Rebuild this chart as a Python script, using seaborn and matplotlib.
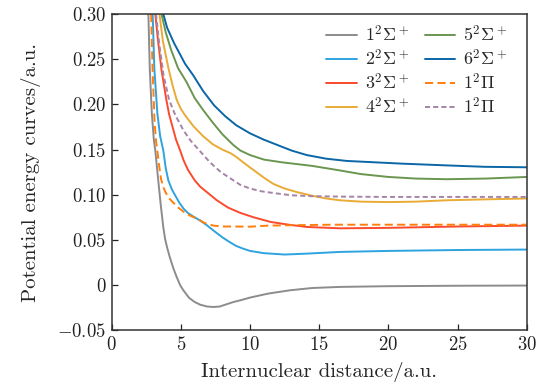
import matplotlib
matplotlib.use("Agg")
import matplotlib.pyplot as plt
from matplotlib.ticker import FuncFormatter, MultipleLocator
import seaborn as sns

sns.set_style("white")
plt.rcParams["font.family"] = ["cmr10", "DejaVu Serif"]
plt.rcParams["mathtext.fontset"] = "cm"
plt.rcParams["axes.formatter.use_mathtext"] = True
plt.rcParams["axes.unicode_minus"] = True

# curve data (distance in a.u., energy in a.u.)
x_s1 = [2.65, 2.75, 2.9, 3.05, 3.15, 3.37, 3.55, 3.73, 3.85, 4.0, 4.2, 4.45, 4.7, 4.95, 5.2,
        5.6, 6.0, 6.4, 6.9, 7.35, 7.8, 8.3, 8.8, 9.3, 10.0, 11.3, 12.9, 14.5, 16.5, 20, 25, 30]
y_s1 = [0.30, 0.24, 0.19, 0.16, 0.149, 0.115, 0.088, 0.064, 0.052, 0.042, 0.031, 0.019, 0.009,
        0.0, -0.006, -0.014, -0.0185, -0.0215, -0.0235, -0.024, -0.0235, -0.021, -0.0185,
        -0.0166, -0.0136, -0.0092, -0.0055, -0.003, -0.0018, -0.001, -0.0005, -0.0003]

x_s2 = [2.96, 3.08, 3.3, 3.5, 3.73, 3.9, 4.09, 4.35, 4.6, 4.9, 5.18, 5.5, 5.9, 6.4, 6.87, 7.4,
        8.0, 8.5, 9.0, 9.5, 10.0, 11.0, 12.5, 14.1, 16.5, 20, 25, 30]
y_s2 = [0.30, 0.24, 0.19, 0.165, 0.149, 0.13, 0.116, 0.106, 0.099, 0.091, 0.085, 0.080, 0.076,
        0.0715, 0.0665, 0.060, 0.053, 0.048, 0.0435, 0.0405, 0.038, 0.0355, 0.034, 0.035,
        0.0369, 0.038, 0.039, 0.0395]

x_s3 = [3.15, 3.35, 3.6, 3.95, 4.15, 4.4, 4.65, 4.95, 5.2, 5.5, 6.0, 6.4, 6.8, 7.2, 7.6, 8.0,
        8.4, 9.3, 10.3, 11.5, 12.8, 14.1, 16.5, 20, 25, 30]
y_s3 = [0.30, 0.27, 0.238, 0.205, 0.189, 0.175, 0.161, 0.149, 0.138, 0.128, 0.116, 0.109,
        0.104, 0.099, 0.094, 0.090, 0.086, 0.080, 0.075, 0.070, 0.067, 0.0645, 0.063, 0.0635,
        0.065, 0.066]

x_s4 = [3.45, 3.7, 4.1, 4.4, 4.7, 5.0, 5.3, 5.9, 6.6, 7.3, 8.0, 8.6, 9.0, 9.5, 10.2, 11.0,
        11.7, 12.5, 13.4, 14.5, 15.5, 16.5, 18, 20, 22, 24.2, 27, 30]
y_s4 = [0.30, 0.27, 0.24, 0.221, 0.205, 0.195, 0.188, 0.176, 0.165, 0.156, 0.150, 0.146,
        0.142, 0.136, 0.128, 0.119, 0.112, 0.107, 0.103, 0.099, 0.096, 0.094, 0.0925, 0.092,
        0.0925, 0.094, 0.095, 0.096]

x_s5 = [3.6, 3.9, 4.3, 4.8, 5.4, 6.0, 6.6, 7.3, 8.0, 8.8, 9.3, 10.0, 11.0, 12.3, 13.4, 14.5,
        16.5, 18, 20, 22, 24.2, 27, 30]
y_s5 = [0.30, 0.28, 0.26, 0.24, 0.225, 0.207, 0.194, 0.180, 0.167, 0.155, 0.149, 0.144,
        0.139, 0.136, 0.134, 0.132, 0.127, 0.123, 0.1198, 0.118, 0.1173, 0.118, 0.1198]

x_s6 = [3.73, 4.0, 4.5, 5.3, 5.9, 6.6, 7.4, 8.2, 9.0, 10.0, 11.0, 12.0, 13.0, 14.1, 15.5,
        17, 19, 21, 24, 27, 30]
y_s6 = [0.30, 0.285, 0.268, 0.245, 0.232, 0.215, 0.199, 0.187, 0.177, 0.168, 0.161, 0.155,
        0.149, 0.144, 0.140, 0.1375, 0.136, 0.1345, 0.1327, 0.131, 0.1305]

x_p1 = [2.85, 2.95, 3.1, 3.2, 3.32, 3.44, 3.56, 3.7, 3.85, 4.1, 4.41, 4.8, 5.18, 5.6, 6.15,
        6.7, 7.35, 8.0, 8.8, 10.0, 11.3, 12.9, 16, 20, 25, 30]
y_p1 = [0.30, 0.24, 0.18, 0.160, 0.146, 0.131, 0.118, 0.110, 0.104, 0.097, 0.092, 0.086,
        0.0815, 0.0775, 0.0738, 0.069, 0.066, 0.065, 0.065, 0.0648, 0.066, 0.0664, 0.067,
        0.067, 0.067, 0.067]

x_p2 = [3.2, 3.45, 3.75, 4.15, 4.6, 5.2, 5.7, 6.4, 7.1, 7.9, 8.7, 9.3, 10.0, 10.8, 11.7,
        13.0, 14.5, 17, 20, 25, 30]
y_p2 = [0.30, 0.265, 0.232, 0.205, 0.188, 0.171, 0.160, 0.148, 0.136, 0.125, 0.117, 0.111,
        0.107, 0.104, 0.102, 0.0995, 0.0985, 0.098, 0.0977, 0.0977, 0.0977]

curves = [
    (x_s1, y_s1, r"$1^2\Sigma^+$", "#8c8c8c", "-"),
    (x_s2, y_s2, r"$2^2\Sigma^+$", "#2ea3df", "-"),
    (x_s3, y_s3, r"$3^2\Sigma^+$", "#fb4a2c", "-"),
    (x_s4, y_s4, r"$4^2\Sigma^+$", "#e9ab35", "-"),
    (x_s5, y_s5, r"$5^2\Sigma^+$", "#6a9650", "-"),
    (x_s6, y_s6, r"$6^2\Sigma^+$", "#0a66a6", "-"),
    (x_p1, y_p1, r"$1^2\Pi$", "#ff7f0e", (0, (4.2, 2.2))),
    (x_p2, y_p2, r"$1^2\Pi$", "#a584a8", (0, (2.6, 1.6))),
]

fig = plt.figure(figsize=(5.49, 3.89), dpi=100)
ax = fig.add_axes([0.2035, 0.1504, 0.7559, 0.8136])

for xs, ys, lab, col, ls in curves:
    sns.lineplot(x=xs, y=ys, ax=ax, color=col, label=lab, sort=False, lw=1.4)
    ax.get_lines()[-1].set_linestyle(ls)

ax.set_xlim(0, 30)
ax.set_ylim(-0.05, 0.30)
ax.xaxis.set_major_locator(MultipleLocator(5))
ax.yaxis.set_major_locator(MultipleLocator(0.05))


def fmt_x(v, pos):
    return f"${v:.0f}$"


def fmt_y(v, pos):
    if abs(v) < 1e-9:
        return "$0$"
    return f"${v:.2f}$"


ax.xaxis.set_major_formatter(FuncFormatter(fmt_x))
ax.yaxis.set_major_formatter(FuncFormatter(fmt_y))
ax.tick_params(direction="in", length=4, width=0.9, labelsize=13.5, colors="#222222",
               top=False, right=False, bottom=True, left=True, pad=4)
for sp in ax.spines.values():
    sp.set_color("#333333")
    sp.set_linewidth(1.1)

ax.set_xlabel("Internuclear distance/a.u.", fontsize=15, labelpad=6)
ax.set_ylabel("Potential energy curves/a.u.", fontsize=15, labelpad=12)

ax.legend(ncol=2, loc="upper right", frameon=False, fontsize=13, handlelength=1.7,
          handletextpad=0.45, columnspacing=0.85, labelspacing=0.2,
          bbox_to_anchor=(0.985, 1.01), borderaxespad=0.3)

fig.savefig("out.png", dpi=100)
